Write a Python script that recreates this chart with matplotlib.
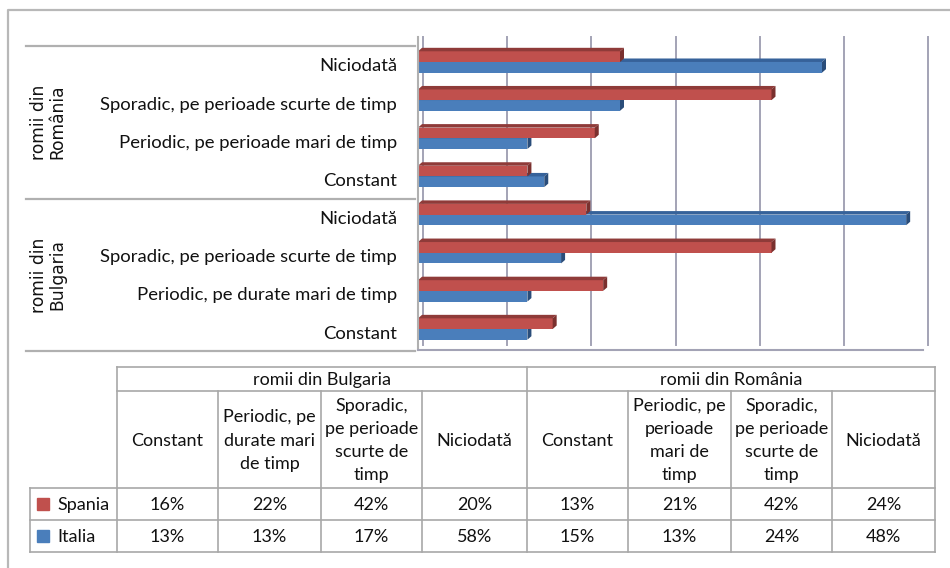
import numpy as np
import matplotlib.pyplot as plt
import matplotlib.transforms as mt
from matplotlib.patches import Polygon, Rectangle
from matplotlib.transforms import offset_copy

# data (table order: Bulgaria first, then Romania)
groups = ['romii din Bulgaria', 'romii din România']
cats_chart = ['Constant', 'Periodic, pe durate mari de timp',
              'Sporadic, pe perioade scurte de timp', 'Niciodată',
              'Constant', 'Periodic, pe perioade mari de timp',
              'Sporadic, pe perioade scurte de timp', 'Niciodată']
cats_table = ['Constant', 'Periodic, pe\ndurate mari\nde timp',
              'Sporadic,\npe perioade\nscurte de\ntimp', 'Niciodată',
              'Constant', 'Periodic, pe\nperioade\nmari de\ntimp',
              'Sporadic,\npe perioade\nscurte de\ntimp', 'Niciodată']
series = ['Spania', 'Italia']
spania = [16, 22, 42, 20, 13, 21, 42, 24]
italia = [13, 13, 17, 58, 15, 13, 24, 48]

red, red_top, red_side = '#c0504d', '#8f3b39', '#7a302e'
blue, blue_top, blue_side = '#4a7ebb', '#36629a', '#2a4d7a'
grid_c = '#a3a3b5'
line_c = '#b0b0b0'
FONT = 'Lato'
txt_c = '#111111'

W, H = 950, 568
fig = plt.figure(figsize=(W / 100, H / 100), dpi=100)

# background axes in pixel coordinates
bg = fig.add_axes([0, 0, 1, 1])
bg.set_xlim(0, W)
bg.set_ylim(H, 0)
bg.axis('off')

# outer frame
bg.plot([8, 8, W], [H, 10, 10], color='#b8b8b8', lw=1.6, solid_capstyle='butt')

# bar axes
x0, x1, ytop, ybot = 418, 923, 37, 350
ax = fig.add_axes([x0 / W, 1 - ybot / H, (x1 - x0) / W, (ybot - ytop) / H])
ax.set_xlim(0, 0.6)
ax.set_ylim(-0.55, 7.655)
ax.patch.set_alpha(0)
for s in ['top', 'right']:
    ax.spines[s].set_visible(False)
ax.spines['left'].set_color(line_c)
ax.spines['bottom'].set_color(grid_c)
ax.spines['left'].set_linewidth(1.5)
ax.spines['bottom'].set_linewidth(1.5)
ax.set_xticks([])

# gridlines on back wall, shifted by the 3D depth
gtrans = offset_copy(ax.get_xaxis_transform(), fig=fig, x=5, y=0, units='dots')
for g in np.arange(0, 0.61, 0.1):
    ax.plot([g, g], [0.015, 1], color=grid_c, lw=1.4, transform=gtrans,
            zorder=0, clip_on=False)

y = np.arange(len(cats_chart))
h = 0.28
dx = 0.6 * 4 / (x1 - x0)
dy = 8.2 * 3.5 / (ybot - ytop)


def bars3d(ypos, vals, front, top, side):
    ax.barh(ypos, vals, height=h, color=front, zorder=2)
    for yi, v in zip(ypos, vals):
        t = yi + h / 2
        b = yi - h / 2
        ax.add_patch(Polygon([(0, t), (v, t), (v + dx, t + dy), (dx, t + dy)],
                             closed=True, color=top, zorder=2, lw=0))
        ax.add_patch(Polygon([(v, b), (v + dx, b + dy), (v + dx, t + dy), (v, t)],
                             closed=True, color=side, zorder=2, lw=0))


bars3d(y - h / 2, np.array(italia) / 100, blue, blue_top, blue_side)
bars3d(y + h / 2, np.array(spania) / 100, red, red_top, red_side)

ax.set_yticks(y)
ax.set_yticklabels(cats_chart, fontsize=13.3, family=FONT, color=txt_c)
ax.tick_params(axis='y', length=0, pad=15)
off = mt.ScaledTranslation(0, -3 / 100, fig.dpi_scale_trans)
for lab in ax.get_yticklabels():
    lab.set_transform(lab.get_transform() + off)

# group separators and group labels
for yy in [46, 199, 351]:
    bg.plot([26, 415], [yy, yy], color=line_c, lw=1.6)
bg.text(48, 275, 'romii din\nBulgaria', rotation=90, ha='center', va='center',
        fontsize=12.3, family='DejaVu Sans', linespacing=1.0, color=txt_c)
bg.text(48, 122, 'romii din\nRomânia', rotation=90, ha='center', va='center',
        fontsize=12.3, family='DejaVu Sans', linespacing=1.0, color=txt_c)

# data table
cols = [117, 218, 321, 422, 527, 628, 731, 832, 935]
rows = [367, 391, 488, 520, 552]
tl = '#a8a8a8'
lw = 1.2
for yy in rows[:2]:
    bg.plot([117, 935], [yy, yy], color=tl, lw=lw)
for yy in rows[2:]:
    bg.plot([30, 935], [yy, yy], color=tl, lw=lw)
for xx in cols:
    if xx in (117, 527, 935):
        bg.plot([xx, xx], [367, 552], color=tl, lw=lw)
    else:
        bg.plot([xx, xx], [391, 552], color=tl, lw=lw)
bg.plot([30, 30], [488, 552], color=tl, lw=lw)

fs = 13
for gi, g in enumerate(groups):
    bg.text((cols[gi * 4] + cols[gi * 4 + 4]) / 2, (rows[0] + rows[1]) / 2 + 1, g,
            ha='center', va='center', fontsize=fs, family=FONT, color=txt_c)
for i, c in enumerate(cats_table):
    bg.text((cols[i] + cols[i + 1]) / 2, (rows[1] + rows[2]) / 2 + 1, c,
            ha='center', va='center', fontsize=fs, family=FONT,
            linespacing=1.55, color=txt_c)
for r, (name, vals, col) in enumerate([('Spania', spania, red), ('Italia', italia, blue)]):
    yc = (rows[2 + r] + rows[3 + r]) / 2
    bg.add_patch(Rectangle((37, yc - 6), 12, 12, color=col))
    bg.text(57, yc + 1, name, ha='left', va='center', fontsize=fs, family=FONT, color=txt_c)
    for i, v in enumerate(vals):
        bg.text((cols[i] + cols[i + 1]) / 2, yc + 1, f'{v}%', ha='center', va='center',
                fontsize=fs, family=FONT, color=txt_c)

fig.savefig('out.png', dpi=100)
